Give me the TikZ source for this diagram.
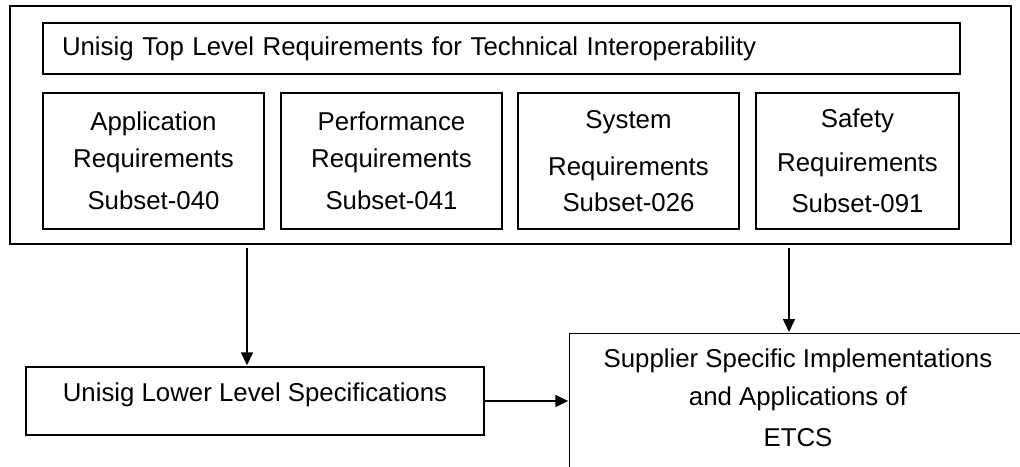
\documentclass[tikz,border=0pt]{standalone}
\usepackage{fontspec}
\setmainfont{Liberation Sans}
\usetikzlibrary{arrows.meta}
\tikzset{
	blk/.style={draw, line width=1.4pt, inner sep=0pt, align=center, font=\fontsize{25.8}{40}\selectfont},
	txt/.style={inner sep=0pt, align=center, font=\fontsize{25.8}{40}\selectfont},
	arr/.style={line width=1.6pt, -{Triangle[width=12pt,length=13pt]}}
}

\begin{document}
\begin{tikzpicture}[x=1pt, y=-1pt]
			%%%%% START %%%%%
			
			\clip (0, 0) rectangle (1020, 466);
			
			\node[blk, minimum width=1001pt, minimum height=238pt] (outer) at (510.5, 125) {};
			\node[blk, minimum width=917pt, minimum height=51pt, text width=879pt, inner xsep=19pt, align=left] (title) at (501.5, 48.5) {Unisig Top Level Requirements for Technical Interoperability};
			
			\node[blk, minimum width=221pt, minimum height=136pt] (app) at (153.5, 161) {Application\\[-3pt]Requirements\\[2pt]Subset-040};
			\node[blk, minimum width=221pt, minimum height=136pt] (perf) at (391.5, 161) {Performance\\[-3pt]Requirements\\[2pt]Subset-041};
			\node[blk, minimum width=221pt, minimum height=136pt] (sys) at (628.5, 161) {System\\[7pt]Requirements\\[-4pt]Subset-026};
			\node[blk, minimum width=203pt, minimum height=136pt] (safe) at (857.5, 161) {Safety\\[4pt]Requirements\\[1pt]Subset-091};
			
			\node[blk, minimum width=458pt, minimum height=68pt, text height=18.5pt, text depth=18pt] (lower) at (255, 401) {Unisig Lower Level Specifications};
			
			\node[blk, anchor=north west, minimum width=500pt, minimum height=200pt] (supp) at (569, 333) {};
			\node[txt] (supptext) at (798, 398) {Supplier Specific Implementations\\[-2pt]and Applications of\\[1pt]ETCS};
			
			\coordinate (lowin) at ([xshift=-8pt]lower.north);
			\coordinate (suppin) at ([xshift=220pt]supp.north west);
			
			\draw[arr, shorten <=3pt, shorten >=1pt] (lowin |- outer.south) -- (lowin);
			\draw[arr, shorten <=3pt, shorten >=1pt] (suppin |- outer.south) -- (suppin);
			\draw[arr, shorten >=0.7pt] (lower.east) -- (lower.east -| supp.west);
			
			%%%%% END %%%%%
\end{tikzpicture}
\end{document}
